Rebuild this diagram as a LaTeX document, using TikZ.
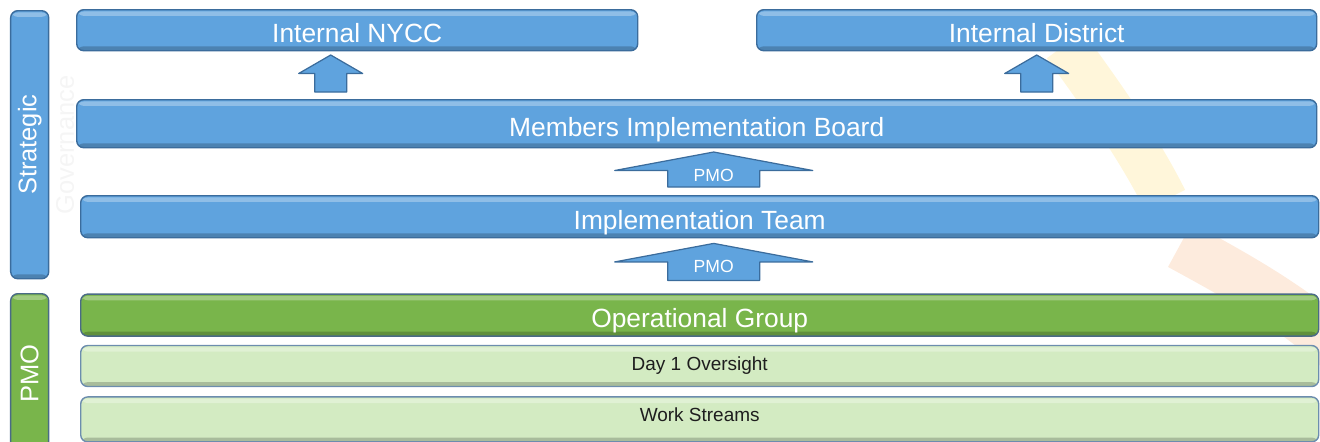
\documentclass[tikz,border=0pt]{standalone}
\usepackage{fontspec}
\setmainfont{Liberation Sans}
\usetikzlibrary{positioning,calc}

\definecolor{barblue}{HTML}{5FA3DE}
\definecolor{blueline}{HTML}{3B6C9C}
\definecolor{opgreen}{HTML}{79B54B}
\definecolor{greenline}{HTML}{4A6B86}
\definecolor{palegreen}{HTML}{D3EBC2}
\definecolor{paleline}{HTML}{6C8DAE}
\definecolor{textdark}{HTML}{1E1E1E}
\definecolor{wmyellow}{HTML}{FFF6DA}
\definecolor{wmorange}{HTML}{FDEBDD}
\definecolor{govgray}{HTML}{F5F5F5}

\begin{document}
\begin{tikzpicture}[
    node distance=0cm,
    bevel/.style={path picture={
        \fill[white,opacity=.3] ([yshift=-1pt]path picture bounding box.north west) rectangle ([yshift=-3.5pt]path picture bounding box.north east);
        \fill[black,opacity=.2] ([yshift=2.5pt]path picture bounding box.south west) rectangle (path picture bounding box.south east);}},
    bluebar/.style={bevel, draw=blueline, fill=barblue, line width=0.8pt, rounded corners=4pt, inner sep=0pt, text=white, font=\fontsize{15}{18}\selectfont, text height=14pt, text depth=0pt},
    darkgreen/.style={bevel, draw=greenline, fill=opgreen, line width=0.8pt, rounded corners=4pt, inner sep=0pt, text=white, font=\fontsize{15}{18}\selectfont, text height=14pt, text depth=0pt},
    lightgreen/.style={bevel, draw=paleline, fill=palegreen, line width=0.8pt, rounded corners=4pt, inner sep=0pt, text=textdark, font=\fontsize{10.8}{13}\selectfont},
    sidelbl/.style={rotate=90, text=white, inner sep=0pt, font=\fontsize{14.5}{17}\selectfont},
    pmolbl/.style={text=white, inner sep=0pt, font=\fontsize{10}{12}\selectfont},
    pics/uparrow/.style n args={3}{code={
        \filldraw[fill=barblue, draw=blueline, line width=0.7pt, line join=round]
            (-#1/2,0) -- (#1/2,0) -- (#1/2,#3-0.37) -- (#2/2,#3-0.37) -- (0,#3)
            -- (-#2/2,#3-0.37) -- (-#1/2,#3-0.37) -- cycle;}}
]
    \useasboundingbox (0,0) rectangle (26.4,-8.82);

    % faint background marks
    \draw[line width=0.9cm, wmyellow] (21.3,-0.9) .. controls (22.1,-2.0) and (22.8,-3.0) .. (23.3,-4.0);
    \draw[line width=1.0cm, wmorange] (23.6,-4.9) .. controls (24.7,-5.5) and (25.8,-6.1) .. (26.8,-7.0);
    \node[rotate=90, text=govgray, font=\fontsize{14.5}{17}\selectfont] (govlbl) at (1.3,-2.9) {Governance};

    % side bars
    \node[bluebar, minimum width=0.76cm, minimum height=5.36cm, anchor=north west] (strat) at (0.2,-0.2) {};
    \node[sidelbl] (stratlbl) at (strat) {Strategic};
    \node[darkgreen, minimum width=0.76cm, minimum height=3.2cm, anchor=north west] (pmo) at (0.2,-5.86) {};
    \node[sidelbl] (pmoside) at (pmo) {PMO};

    % bars
    \node[bluebar, minimum width=11.22cm, minimum height=0.82cm, anchor=north west] (nycc) at (1.52,-0.18) {Internal NYCC};
    \node[bluebar, minimum width=11.2cm, minimum height=0.82cm, anchor=north west] (dist) at (15.12,-0.18) {Internal District};
    \node[bluebar, minimum width=24.8cm, minimum height=0.96cm, anchor=north west] (mib) at (1.52,-1.98) {Members Implementation Board};
    \node[bluebar, minimum width=24.76cm, minimum height=0.84cm, anchor=north west] (it) at (1.6,-3.9) {Implementation Team};
    \node[darkgreen, minimum width=24.76cm, minimum height=0.84cm, below=1.1cm of it] (og) {Operational Group};
    \node[lightgreen, minimum width=24.76cm, minimum height=0.82cm, below=0.16cm of og] (d1) {Day 1 Oversight};
    \node[lightgreen, minimum width=24.76cm, minimum height=0.9cm, below=0.18cm of d1, text height=7.8pt, text depth=6pt] (ws) {Work Streams};

    % arrows
    \coordinate (arrl) at ($(mib.north)+(-7.32,0.14)$);
    \coordinate (arrr) at ($(mib.north)+(6.8,0.14)$);
    \coordinate (arra) at ($(it.north)+(0.28,0.16)$);
    \coordinate (arrb) at ($(og.north)+(0.28,0.26)$);
    \pic at (arrl) {uparrow={0.64}{1.28}{0.74}};
    \pic at (arrr) {uparrow={0.64}{1.28}{0.74}};
    \pic at (arra) {uparrow={1.84}{3.96}{0.70}};
    \pic at (arrb) {uparrow={1.84}{3.96}{0.74}};
    \node[pmolbl] (pmoa) at ($(arra)+(0,0.24)$) {PMO};
    \node[pmolbl] (pmob) at ($(arrb)+(0,0.28)$) {PMO};
\end{tikzpicture}
\end{document}
